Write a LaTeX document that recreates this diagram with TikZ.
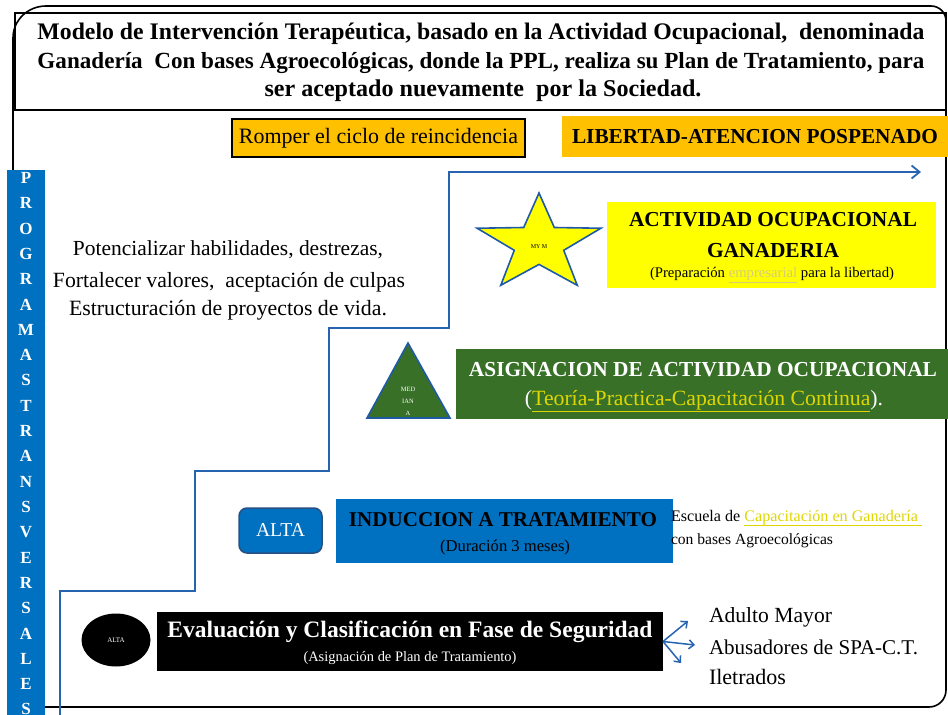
\documentclass[tikz,border=0pt]{standalone}
\usepackage{fontspec}
\setmainfont{Liberation Serif}
\usepackage{graphicx}
\usetikzlibrary{shapes.geometric,arrows.meta}

\definecolor{orng}{RGB}{255,192,0}
\definecolor{barblue}{RGB}{0,112,192}
\definecolor{stepblue}{RGB}{38,100,176}
\definecolor{edgeblue}{RGB}{31,90,165}
\definecolor{dkgreen}{RGB}{56,112,40}
\definecolor{ylw}{RGB}{255,255,0}
\definecolor{ylwtxt}{RGB}{222,214,0}
\definecolor{paleylw}{RGB}{214,204,120}
\definecolor{altaedge}{RGB}{40,80,130}

\newcommand{\fw}[2]{\resizebox{#1pt}{!}{#2}}

\tikzset{
  frame/.style={draw=black, line width=1.6pt},
  txt/.style={inner sep=0pt, outer sep=0pt, font=\fontsize{20}{24}\selectfont},
  btxt/.style={txt, font=\fontsize{20}{24}\selectfont\bfseries},
  barletter/.style={inner sep=0pt, text=white, font=\fontsize{17}{17}\selectfont\bfseries},
  stair/.style={draw=stepblue, line width=1.8pt},
  smallarrow/.style={draw=stepblue, line width=1.5pt, -{Straight Barb[length=5pt,width=9pt]}},
  boxnode/.style={inner sep=0pt, outer sep=0pt},
}

\begin{document}
\begin{tikzpicture}[x=1pt,y=-1pt]
\useasboundingbox (0,0) rectangle (948,715);

% outer frame
\draw[frame] (13,707) -- (13,38) to[out=90,in=180] (46,6) -- (931,6)
  to[out=0,in=90] (946,21) -- (946,690) to[out=-90,in=0] (929,707) -- cycle;
% title box
\node[frame, boxnode, minimum width=931pt, minimum height=97pt] (titlebox) at (480.5,61.5) {};
\node[btxt] (t1) at (481,34) {\fw{887}{Modelo de Intervención Terapéutica, basado en la Actividad Ocupacional,\ \ denominada}};
\node[btxt] (t2) at (481,63) {\fw{887}{Ganadería\ \ Con bases Agroecológicas, donde la PPL, realiza su Plan de Tratamiento, para}};
\node[btxt] (t3) at (483,91) {\fw{437}{ser aceptado nuevamente\ \ por la Sociedad.}};

% top boxes
\node[boxnode, draw=black, line width=1.2pt, fill=orng, minimum width=293pt, minimum height=38pt, txt] (romper) at (378.5,138) {\fw{279}{Romper el ciclo de reincidencia}};
\node[boxnode, fill=orng, minimum width=386pt, minimum height=41pt, btxt] (libertad) at (755,136.5) {\fw{366}{LIBERTAD-ATENCION POSPENADO}};

% vertical bar
\node[boxnode, fill=barblue, minimum width=38pt, minimum height=550pt] (bar) at (26,445) {};
\foreach \l [count=\i from 0] in {P,R,O,G,R,A,M,A,S,T,R,A,N,S,V,E,R,S,A,L,E,S}
  \node[barletter] (bl\i) at (26,178+25.3*\i) {\l};

% stair line
\coordinate (s0) at (60,715);
\coordinate (send) at (921,172);
\draw[stair, -{Straight Barb[length=8pt,width=13pt]}] (s0) -- (60,591) -- (195,591) -- (195,471) -- (329,471)
  -- (329,328) -- (449,328) -- (449,172) -- (send);

% left text
\node[txt] (pot1) at (228,250) {\fw{310}{Potencializar habilidades, destrezas,}};
\node[txt] (pot2) at (229,282) {\fw{352}{Fortalecer valores,\ \ aceptación de culpas}};
\node[txt] (pot3) at (228,310) {\fw{318}{Estructuración de proyectos de vida.}};

% star + yellow box
\node[star, star points=5, star point ratio=2.5, minimum size=102pt, inner sep=0pt,
  fill=ylw, draw=edgeblue, line width=1.6pt, xscale=1.275] (star) at (539,244) {};
\node[font=\fontsize{6}{6}\selectfont, inner sep=0pt] (mym) at (539,247) {MY M};
\node[boxnode, fill=ylw, minimum width=329pt, minimum height=86pt] (ganbox) at (771.5,245) {};
\node[btxt] (gan1) at (773,220) {\fw{288}{ACTIVIDAD OCUPACIONAL}};
\node[btxt] (gan2) at (773,251) {\fw{132}{GANADERIA}};
\node[txt] (gan3) at (772,275) {\fw{244}{(Preparación \textcolor{paleylw}{\underline{empresarial}} para la libertad)}};

% triangle + green box
\filldraw[fill=dkgreen, draw=edgeblue, line width=1.6pt] (408,343) -- (450,418) -- (367,418) -- cycle;
\node[align=center, text=white, inner sep=0pt, font=\fontsize{6.5}{12}\selectfont] (media) at (408,401) {MED\\IAN\\A};
\node[boxnode, fill=dkgreen, minimum width=492pt, minimum height=70pt] (asigbox) at (702,384) {};
\node[btxt, text=white] (asig1) at (703,370) {\fw{468}{ASIGNACION DE ACTIVIDAD OCUPACIONAL}};
\node[txt, text=white] (asig2) at (704,401) {\fw{358}{(\textcolor{ylwtxt}{\underline{Teoría-Practica-Capacitación Continua}}).}};

% induccion
\node[boxnode, fill=barblue, draw=altaedge, line width=1.5pt, rounded corners=8pt, minimum width=83pt, minimum height=45pt, txt, text=white] (alta1) at (280.5,530.5) {\fw{49}{ALTA}};
\node[boxnode, fill=barblue, minimum width=337pt, minimum height=64pt] (indbox) at (504.5,531) {};
\node[btxt] (ind1) at (503,520) {\fw{308}{INDUCCION A TRATAMIENTO}};
\node[txt] (ind2) at (505,547) {\fw{130}{(Duración 3 meses)}};
\node[txt, anchor=west] (esc1) at (671,518) {\fw{251}{Escuela de \textcolor{ylwtxt}{\underline{Capacitación en Ganadería\ }}}};
\node[txt, anchor=west] (esc2) at (671,541) {\fw{162}{con bases Agroecológicas}};

% evaluacion
\node[ellipse, fill=black, minimum width=69pt, minimum height=53pt, inner sep=0pt, text=white, font=\fontsize{7}{7}\selectfont] (alta2) at (116,640) {ALTA};
\node[boxnode, fill=black, minimum width=506pt, minimum height=59pt] (evalbox) at (410,641.5) {};
\node[btxt, text=white] (ev1) at (410,632) {\fw{485}{Evaluación y Clasificación en Fase de Seguridad}};
\node[txt, text=white] (ev2) at (410,658) {\fw{213}{(Asignación de Plan de Tratamiento)}};

% branches
\coordinate (a1) at (688,621);
\coordinate (a2) at (695,645);
\coordinate (a3) at (681,663);
\draw[smallarrow] (evalbox.east) -- (a1);
\draw[smallarrow] (evalbox.east) -- (a2);
\draw[smallarrow] (evalbox.east) -- (a3);
\node[txt, anchor=west] (g1) at (709,617) {\fw{123}{Adulto Mayor}};
\node[txt, anchor=west] (g2) at (709,647) {\fw{209}{Abusadores de SPA-C.T.}};
\node[txt, anchor=west] (g3) at (709,677) {\fw{77}{Iletrados}};
\end{tikzpicture}
\end{document}
